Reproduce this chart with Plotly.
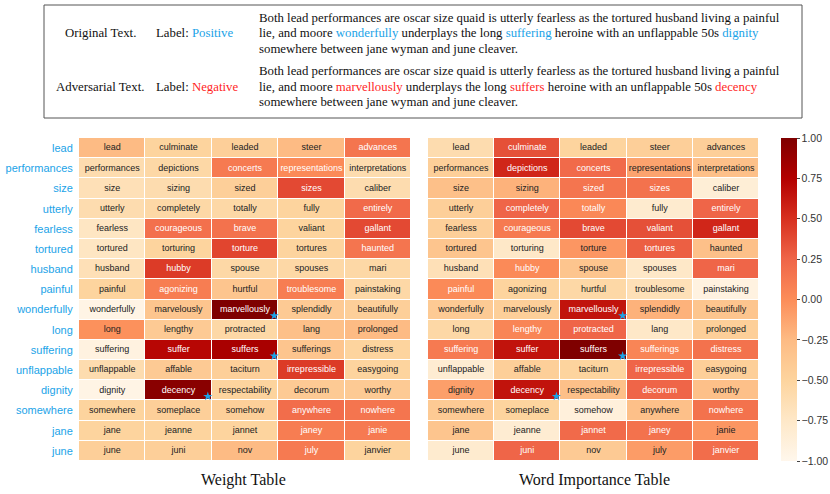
import numpy as np
import plotly.graph_objects as go

# ---------------- data ----------------
row_words = ["lead", "performances", "size", "utterly", "fearless", "tortured", "husband",
             "painful", "wonderfully", "long", "suffering", "unflappable", "dignity",
             "somewhere", "jane", "june"]

cell_words = [
    ["lead", "culminate", "leaded", "steer", "advances"],
    ["performances", "depictions", "concerts", "representations", "interpretations"],
    ["size", "sizing", "sized", "sizes", "caliber"],
    ["utterly", "completely", "totally", "fully", "entirely"],
    ["fearless", "courageous", "brave", "valiant", "gallant"],
    ["tortured", "torturing", "torture", "tortures", "haunted"],
    ["husband", "hubby", "spouse", "spouses", "mari"],
    ["painful", "agonizing", "hurtful", "troublesome", "painstaking"],
    ["wonderfully", "marvelously", "marvellously", "splendidly", "beautifully"],
    ["long", "lengthy", "protracted", "lang", "prolonged"],
    ["suffering", "suffer", "suffers", "sufferings", "distress"],
    ["unflappable", "affable", "taciturn", "irrepressible", "easygoing"],
    ["dignity", "decency", "respectability", "decorum", "worthy"],
    ["somewhere", "someplace", "somehow", "anywhere", "nowhere"],
    ["jane", "jeanne", "jannet", "janey", "janie"],
    ["june", "juni", "nov", "july", "janvier"],
]

weight_values = [
    [-0.25, -0.50, -0.45, -0.25, 0.15],
    [-0.60, -0.55, 0.12, 0.02, -0.60],
    [-0.65, -0.60, -0.45, 0.38, -0.60],
    [-0.60, -0.55, -0.55, -0.50, 0.22],
    [-0.72, 0.18, 0.17, -0.50, 0.38],
    [-0.72, -0.50, 0.40, -0.50, 0.15],
    [-0.65, 0.45, -0.55, -0.55, -0.55],
    [-0.50, 0.10, -0.35, 0.10, -0.55],
    [-0.95, -0.35, 1.00, -0.40, -0.45],
    [-0.02, -0.40, -0.55, -0.30, -0.25],
    [-0.92, 0.72, 0.80, -0.35, -0.50],
    [-0.60, -0.40, -0.45, 0.45, -0.50],
    [-0.95, 0.95, -0.50, -0.40, -0.40],
    [-0.50, -0.45, -0.45, 0.20, 0.15],
    [-0.50, -0.50, -0.50, 0.10, 0.12],
    [-0.45, -0.45, -0.25, 0.12, -0.50],
]

importance_values = [
    [-0.60, 0.35, -0.50, -0.45, -0.45],
    [-0.45, 0.55, 0.22, -0.12, -0.30],
    [-0.30, -0.20, 0.15, 0.17, -0.85],
    [-0.45, 0.25, 0.03, -0.80, 0.25],
    [-0.45, 0.12, 0.38, 0.35, 0.55],
    [-0.35, -0.75, -0.05, 0.28, -0.30],
    [-0.65, 0.02, -0.35, -0.75, 0.25],
    [0.02, -0.50, -0.55, -0.65, -0.92],
    [-0.40, -0.45, 0.65, -0.20, -0.35],
    [-0.55, 0.05, 0.25, -0.75, -0.45],
    [0.12, 0.65, 1.00, 0.05, 0.17],
    [-0.82, -0.45, -0.50, 0.25, -0.45],
    [-0.10, 0.65, -0.30, 0.25, -0.30],
    [-0.40, -0.50, -0.88, -0.30, 0.17],
    [-0.35, -0.82, 0.22, 0.17, -0.05],
    [-0.80, 0.25, -0.40, -0.08, 0.20],
]

# substituted (adversarial) cells marked with a star: (row, col)
star_cells = [(8, 2), (10, 2), (12, 1)]

colorbar_ticks = [-1.0, -0.75, -0.5, -0.25, 0.0, 0.25, 0.5, 0.75, 1.0]

line1 = "Both lead performances are oscar size quaid is utterly fearless as the tortured husband living a painful"
line2_tpl = "lie, and moore {0} underplays the long {1} heroine with an unflappable 50s {2}"
line3 = "somewhere between jane wyman and june cleaver."
orig_changed = ["wonderfully", "suffering", "dignity"]
adv_changed = ["marvellously", "suffers", "decency"]

# ---------------- style ----------------
BLUE = "#1ba3e8"
RED = "#ff1f1f"
orrd = [[0.0, "#fff7ec"], [0.125, "#fee8c8"], [0.25, "#fdd49e"], [0.375, "#fdbb84"],
        [0.5, "#fc8d59"], [0.625, "#ef6548"], [0.75, "#d7301f"], [0.875, "#b30000"],
        [1.0, "#7f0000"]]

W, H = 830, 494
def px(x):
    return x / W
def py(y):
    return 1 - y / H

fig = go.Figure()

nrows, ncols = len(row_words), len(cell_words[0])
cols_idx = list(range(ncols))
rows_idx = list(range(nrows))

for k, (vals, xa, ya) in enumerate([(weight_values, "x", "y"), (importance_values, "x2", "y2")]):
    fig.add_trace(go.Heatmap(
        z=vals, x=cols_idx, y=rows_idx, coloraxis="coloraxis",
        xgap=1, ygap=1, xaxis=xa, yaxis=ya, hoverinfo="skip"))
    tx, ty, tt, tc = [], [], [], []
    for r in range(nrows):
        for c in range(ncols):
            tx.append(c); ty.append(r); tt.append(cell_words[r][c])
            tc.append("white" if vals[r][c] > 0 else "#222222")
    fig.add_trace(go.Scatter(
        x=tx, y=ty, text=tt, mode="text", xaxis=xa, yaxis=ya,
        textfont=dict(family="Liberation Sans, Arial", size=9, color=tc),
        hoverinfo="skip", showlegend=False))
    fig.add_trace(go.Scatter(
        x=[c + 0.44 for r, c in star_cells], y=[r + 0.3 for r, c in star_cells],
        mode="markers", xaxis=xa, yaxis=ya,
        marker=dict(symbol="star", size=7, color=BLUE, line=dict(width=0)),
        hoverinfo="skip", showlegend=False))

ydom = [py(461), py(138)]
axis_common = dict(showgrid=False, zeroline=False, showline=False)
fig.update_layout(
    width=W, height=H, margin=dict(l=0, r=0, t=0, b=0, autoexpand=False),
    paper_bgcolor="white", plot_bgcolor="white", showlegend=False,
    xaxis=dict(domain=[px(79), px(411)], range=[-0.5, ncols - 0.5], showticklabels=False, **axis_common),
    yaxis=dict(domain=ydom, range=[nrows - 0.5, -0.5], tickmode="array", tickvals=rows_idx,
               ticktext=row_words, ticks="outside", ticklen=3, tickcolor="rgba(0,0,0,0)",
               tickfont=dict(family="Liberation Sans, Arial", size=11, color=BLUE), **axis_common),
    xaxis2=dict(domain=[px(428), px(759)], range=[-0.5, ncols - 0.5], showticklabels=False,
                anchor="y2", **axis_common),
    yaxis2=dict(domain=ydom, range=[nrows - 0.5, -0.5], showticklabels=False, anchor="x2", **axis_common),
    coloraxis=dict(
        cmin=-1, cmax=1, colorscale=orrd,
        colorbar=dict(
            x=px(781), xanchor="left", xref="paper", y=py((138 + 461) / 2), yanchor="middle",
            lenmode="pixels", len=323, thickness=16, outlinewidth=0, xpad=0, ypad=0,
            tickmode="array", tickvals=colorbar_ticks,
            ticktext=[("\u2212" if v < 0 else "") + f"{abs(v):.2f}" for v in colorbar_ticks],
            ticks="outside", ticklen=3, tickcolor="#444",
            tickfont=dict(family="Liberation Sans, Arial", size=10.5, color="#333"))),
)

# --- top text box ---
fig.add_shape(type="rect", xref="paper", yref="paper", x0=px(44), x1=px(802), y0=py(118), y1=py(5),
              line=dict(color="#555555", width=1), fillcolor="rgba(0,0,0,0)")

serif = "Liberation Serif, Times New Roman"
tfont = dict(family=serif, size=12.8, color="#111")
for ytop, name, lab, lcol, words in [(18, "Original Text.", "Positive", BLUE, orig_changed),
                                    (71, "Adversarial Text.", "Negative", RED, adv_changed)]:
    ycen = ytop + 15.5
    fig.add_annotation(x=px(100), y=py(ycen), xref="paper", yref="paper", text=name,
                       showarrow=False, xanchor="center", yanchor="middle", font=tfont)
    fig.add_annotation(x=px(154), y=py(ycen), xref="paper", yref="paper",
                       text=f'Label: <span style="color:{lcol}">{lab}</span>',
                       showarrow=False, xanchor="left", yanchor="middle", font=tfont)
    l2 = line2_tpl.format(*[f'<span style="color:{lcol}">{w}</span>' for w in words])
    for i, txt in enumerate([line1, l2, line3]):
        fig.add_annotation(x=px(257), y=py(ytop + 15.5 * i), xref="paper", yref="paper",
                           text=txt, align="left", showarrow=False,
                           xanchor="left", yanchor="middle", font=tfont)

# --- panel titles ---
for xc, title in [(243, "Weight Table"), (594, "Word Importance Table")]:
    fig.add_annotation(x=px(xc), y=py(480), xref="paper", yref="paper", text=title,
                       showarrow=False, xanchor="center", yanchor="middle",
                       font=dict(family=serif, size=16, color="#111"))

fig.write_html("out.html", post_script="document.body.style.margin='0px';",
               config={"displayModeBar": False})
